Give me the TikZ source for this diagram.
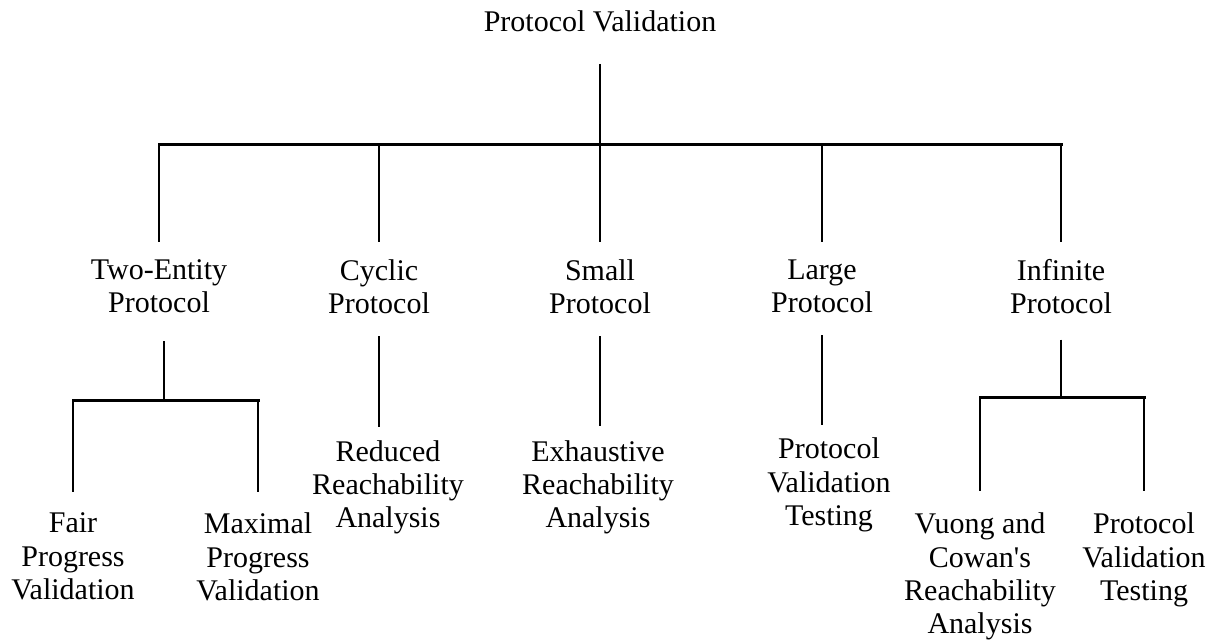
\documentclass[tikz,border=0pt]{standalone}
\usepackage{fontspec}
\setmainfont{Liberation Serif}
\begin{document}
\begin{tikzpicture}[x=0.5pt,y=-0.5pt,
  txt/.style={anchor=north,align=center,inner sep=0pt,font=\fontsize{15pt}{16.65pt}\selectfont},
  stem/.style={line width=1pt},
  bar/.style={line width=1.5pt,line cap=rect}]
\useasboundingbox (0,0) rectangle (1219,642);

\node[txt,anchor=base] (pv) at (600,32) {Protocol Validation};
\coordinate (j0) at (600,144);

\node[txt] (twoent) at (159,259) {Two-Entity\\Protocol};
\node[txt] (cyclic) at (379,259) {Cyclic\\Protocol};
\node[txt] (small) at (600,259) {Small\\Protocol};
\node[txt] (large) at (822,259) {Large\\Protocol};
\node[txt] (infinite) at (1061,259) {Infinite\\Protocol};

\path[draw,stem,shorten <=15.5pt] (pv) -- (j0);
\path[draw,bar] (twoent |- j0) -- (infinite |- j0);
\foreach \n in {twoent,cyclic,small,large,infinite}
  \path[draw,stem,shorten >=8.5pt] (\n |- j0) -- (\n);

\node[txt] (fair) at (73,512.5) {Fair\\Progress\\Validation};
\node[txt] (maximal) at (258,512.5) {Maximal\\Progress\\Validation};
\coordinate (j1) at (164,400);
\path[draw,stem,shorten <=14pt] (twoent.south -| j1) -- (j1);
\path[draw,bar] (fair |- j1) -- (maximal |- j1);
\foreach \n in {fair,maximal}
  \path[draw,stem,shorten >=10.5pt] (\n |- j1) -- (\n);

\node[txt] (reduced) at (388,440) {Reduced\\Reachability\\Analysis};
\path[draw,stem,shorten <=11pt,shorten >=6.5pt] (cyclic.south) -- (cyclic.south |- reduced.north);

\node[txt] (exhaustive) at (598,440) {Exhaustive\\Reachability\\Analysis};
\path[draw,stem,shorten <=11pt,shorten >=7pt] (small.south) -- (small.south |- exhaustive.north);

\node[txt] (pvtest) at (829,437.5) {Protocol\\Validation\\Testing};
\path[draw,stem,shorten <=11pt,shorten >=6.5pt] (large.south) -- (large.south |- pvtest.north);

\node[txt] (vuong) at (980,512.5) {Vuong and\\Cowan\textquotesingle s\\Reachability\\Analysis};
\node[txt] (pvtinf) at (1144,512.5) {Protocol\\Validation\\Testing};
\coordinate (j2) at (1061,397);
\path[draw,stem,shorten <=12.5pt] (infinite.south) -- (j2);
\path[draw,bar] (vuong |- j2) -- (pvtinf |- j2);
\foreach \n in {vuong,pvtinf}
  \path[draw,stem,shorten >=11pt] (\n |- j2) -- (\n);
\end{tikzpicture}
\end{document}
